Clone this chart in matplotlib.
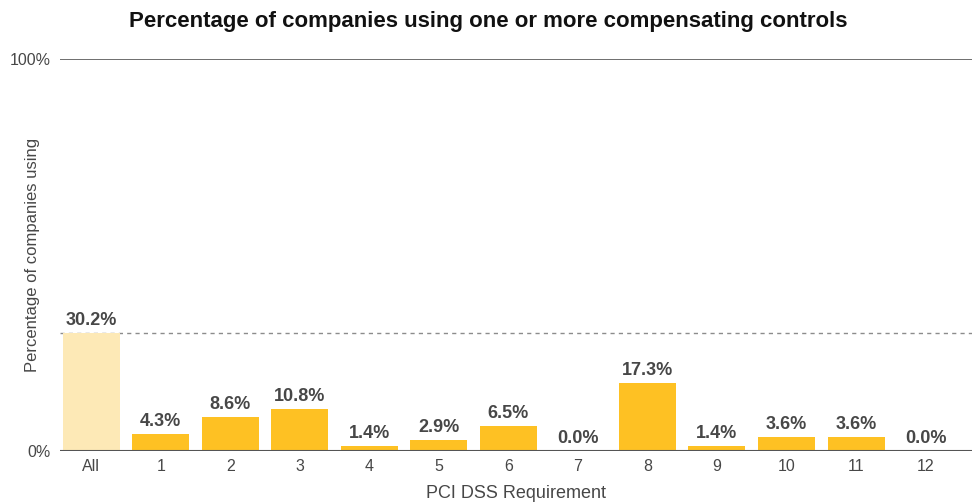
import matplotlib
matplotlib.use("Agg")
import matplotlib.pyplot as plt

CATEGORIES = ["All", "1", "2", "3", "4", "5", "6", "7", "8", "9", "10", "11", "12"]
VALUES = [30.2, 4.3, 8.6, 10.8, 1.4, 2.9, 6.5, 0.0, 17.3, 1.4, 3.6, 3.6, 0.0]

plt.rcParams["font.family"] = ["Liberation Sans", "DejaVu Sans"]
TEXT = "#474747"

fig = plt.figure(figsize=(9.77, 5.03), dpi=100)
ax = fig.add_axes([0.0614, 0.1034, 0.9336, 0.7793])

# first bar ("All") is the lighter shade
colors = ["#fde9b6"] + ["#fec123"] * (len(VALUES) - 1)
x = range(len(CATEGORIES))
ax.bar(x, VALUES, width=0.82, color=colors, zorder=2)

for xi, v in zip(x, VALUES):
    ax.text(xi, v + 1.0, f"{v:.1f}%", ha="center", va="bottom",
            fontsize=13, fontweight="bold", color=TEXT)

ax.axhline(VALUES[0], color="#8c8c8c", lw=1, ls=(0, (3, 3)), zorder=1)
ax.axhline(100, color="#555555", lw=1.2)
ax.axhline(0, color="#555555", lw=1.5, zorder=3)

ax.set_xlim(-0.45, 12.67)
ax.set_ylim(0, 100)
ax.set_xticks(list(x))
ax.set_xticklabels(CATEGORIES)
ax.set_yticks([0, 100])
ax.set_yticklabels(["0%", "100%"])
ax.tick_params(axis="both", length=0, labelsize=11.5, colors=TEXT)
ax.tick_params(axis="x", pad=6)
ax.tick_params(axis="y", pad=7)
for s in ax.spines.values():
    s.set_visible(False)

ax.set_ylabel("Percentage of companies using", fontsize=12, color=TEXT)
ax.yaxis.set_label_coords(-0.022, 0.5)
ax.set_xlabel("PCI DSS Requirement", fontsize=13, color=TEXT, labelpad=8)
fig.suptitle("Percentage of companies using one or more compensating controls",
             x=0.5, y=0.978, fontsize=16, fontweight="bold", color="#111111")

fig.savefig("out.png", dpi=100)
